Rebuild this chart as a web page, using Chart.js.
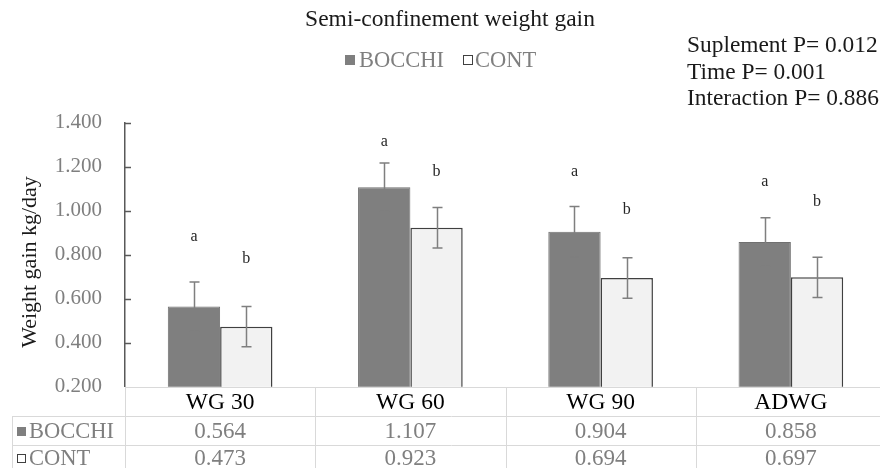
<!DOCTYPE html>
<html>
<head>
<meta charset="utf-8">
<script src="https://cdn.jsdelivr.net/npm/chart.js@4.4.1/dist/chart.umd.min.js"></script>
<style>
  html, body { margin: 0; padding: 0; background: #ffffff; }
  #wrap { width: 880px; height: 468px; overflow: hidden; position: relative; }
  canvas { display: block; }
</style>
</head>
<body>
<div id="wrap"><canvas id="c" width="890" height="468"></canvas></div>
<script>
// Mean daily weight gain (kg/day) per period, with standard error
const categories = ['WG 30', 'WG 60', 'WG 90', 'ADWG'];
const seriesNames = ['BOCCHI', 'CONT'];
const bocchi = [0.564, 1.107, 0.904, 0.858];
const cont = [0.473, 0.923, 0.694, 0.697];
const bocchiErr = [0.112, 0.110, 0.115, 0.110];
const contErr = [0.091, 0.092, 0.092, 0.091];
// significance letters and the value height they sit at
const bocchiLetters = ['a', 'a', 'a', 'a'];
const contLetters = ['b', 'b', 'b', 'b'];
const bocchiLetterAt = [0.880, 1.312, 1.176, 1.130];
const contLetterAt = [0.780, 1.176, 1.003, 1.040];
const yTickValues = [0.2, 0.4, 0.6, 0.8, 1.0, 1.2, 1.4];
const titleText = 'Semi-confinement weight gain';
const yTitle = 'Weight gain kg/day';
const pNotes = ['Suplement P= 0.012', 'Time P= 0.001', 'Interaction P= 0.886'];

const SERIF = "'Liberation Serif', 'Times New Roman', serif";
const DARK_FILL = '#7f7f7f';
const LIGHT_FILL = '#f2f2f2';
const GRID = '#d9d9d9';
const AXIS = '#595959';

function swatch(ctx, x, y, size, fill, stroke) {
  ctx.fillStyle = fill;
  ctx.fillRect(x, y, size, size);
  if (stroke) {
    ctx.strokeStyle = stroke;
    ctx.lineWidth = 1;
    ctx.strokeRect(x + 0.5, y + 0.5, size - 1, size - 1);
  }
}

const decorations = {
  id: 'decorations',
  beforeDatasetsDraw(chart) {
    const { ctx, chartArea: a, scales } = chart;
    const y = scales.y;
    ctx.save();
    // inward tick marks on the value axis
    ctx.strokeStyle = AXIS;
    ctx.lineWidth = 1.5;
    yTickValues.forEach(v => {
      if (v === yTickValues[0]) return;
      const py = Math.round(y.getPixelForValue(v)) + 0.5;
      ctx.beginPath();
      ctx.moveTo(a.left, py);
      ctx.lineTo(a.left + 6, py);
      ctx.stroke();
    });
    ctx.restore();
  },
  afterDatasetsDraw(chart) {
    const { ctx, chartArea: a, scales } = chart;
    const x = scales.x, y = scales.y;
    ctx.save();

    // error bars
    const errs = [bocchiErr, contErr];
    const vals = [bocchi, cont];
    ctx.strokeStyle = '#7f7f7f';
    ctx.lineWidth = 1.5;
    [0, 1].forEach(d => {
      const meta = chart.getDatasetMeta(d);
      meta.data.forEach((bar, i) => {
        const cx = Math.round(bar.x) + 0.5;
        const top = y.getPixelForValue(vals[d][i] + errs[d][i]);
        const bot = y.getPixelForValue(vals[d][i] - errs[d][i]);
        ctx.beginPath();
        ctx.moveTo(cx, top); ctx.lineTo(cx, bot);
        ctx.moveTo(cx - 5, top); ctx.lineTo(cx + 5, top);
        ctx.moveTo(cx - 5, bot); ctx.lineTo(cx + 5, bot);
        ctx.stroke();
      });
    });

    // significance letters
    ctx.fillStyle = '#262626';
    ctx.font = '16px ' + SERIF;
    ctx.textAlign = 'center';
    ctx.textBaseline = 'middle';
    const letters = [bocchiLetters, contLetters];
    const letterAt = [bocchiLetterAt, contLetterAt];
    [0, 1].forEach(d => {
      const meta = chart.getDatasetMeta(d);
      meta.data.forEach((bar, i) => {
        ctx.fillText(letters[d][i], bar.x, y.getPixelForValue(letterAt[d][i]));
      });
    });

    // data table under the plot
    const bottom = a.bottom;
    const edges = [];
    for (let i = 0; i <= categories.length; i++) {
      edges.push(i === 0 ? a.left : (i === categories.length ? a.right : (x.getPixelForValue(i - 1) + x.getPixelForValue(i)) / 2));
    }
    const row1 = 416, row2 = 445, tableLeft = 12;
    ctx.strokeStyle = GRID;
    ctx.lineWidth = 1;
    ctx.beginPath();
    ctx.moveTo(a.left, Math.round(bottom) + 0.5); ctx.lineTo(a.right + 10, Math.round(bottom) + 0.5);
    ctx.moveTo(tableLeft, row1 + 0.5); ctx.lineTo(a.right + 10, row1 + 0.5);
    ctx.moveTo(tableLeft, row2 + 0.5); ctx.lineTo(a.right + 10, row2 + 0.5);
    ctx.moveTo(tableLeft + 0.5, row1); ctx.lineTo(tableLeft + 0.5, 470);
    edges.forEach(ex => {
      const px = Math.round(ex) + 0.5;
      ctx.moveTo(px, Math.round(bottom)); ctx.lineTo(px, 470);
    });
    ctx.stroke();

    ctx.textAlign = 'center';
    ctx.textBaseline = 'middle';
    categories.forEach((c, i) => {
      const cx = x.getPixelForValue(i);
      ctx.fillStyle = '#000000';
      ctx.font = '23.5px ' + SERIF;
      ctx.fillText(c, cx, 403);
      ctx.fillStyle = '#7f7f7f';
      ctx.font = '23px ' + SERIF;
      ctx.fillText(bocchi[i].toFixed(3), cx, 432);
      ctx.fillText(cont[i].toFixed(3), cx, 459);
    });
    // series keys in the table
    swatch(ctx, 17, 427, 9, DARK_FILL);
    swatch(ctx, 17, 454, 9, '#ffffff', '#404040');
    ctx.textAlign = 'left';
    ctx.fillStyle = '#7f7f7f';
    ctx.font = '22.5px ' + SERIF;
    ctx.fillText(seriesNames[0], 29, 432);
    ctx.fillText(seriesNames[1], 29, 459);

    // title
    ctx.textAlign = 'center';
    ctx.fillStyle = '#1a1a1a';
    ctx.font = '23.5px ' + SERIF;
    ctx.fillText(titleText, 450, 20);

    // legend
    swatch(ctx, 345, 55, 10, DARK_FILL);
    swatch(ctx, 463, 55, 10, '#ffffff', '#404040');
    ctx.textAlign = 'left';
    ctx.fillStyle = '#7f7f7f';
    ctx.font = '22.5px ' + SERIF;
    ctx.fillText(seriesNames[0], 359, 61);
    ctx.fillText(seriesNames[1], 475, 61);

    // P-value notes
    ctx.fillStyle = '#1a1a1a';
    ctx.font = '23.4px ' + SERIF;
    pNotes.forEach((t, i) => ctx.fillText(t, 687, 46 + i * 26.5));

    // value axis title
    ctx.save();
    ctx.translate(30, 262);
    ctx.rotate(-Math.PI / 2);
    ctx.textAlign = 'center';
    ctx.fillStyle = '#1a1a1a';
    ctx.font = '22px ' + SERIF;
    ctx.fillText(yTitle, 0, 0);
    ctx.restore();

    ctx.restore();
  }
};

new Chart(document.getElementById('c'), {
  type: 'bar',
  data: {
    labels: categories,
    datasets: [
      { label: seriesNames[0], data: bocchi, backgroundColor: DARK_FILL, borderColor: '#707070', borderWidth: 1 },
      { label: seriesNames[1], data: cont, backgroundColor: LIGHT_FILL, borderColor: '#404040', borderWidth: 1.5 }
    ]
  },
  options: {
    responsive: false,
    animation: false,
    devicePixelRatio: 1,
    layout: { padding: { left: 0, right: 4, top: 122.7, bottom: 81.3 } },
    datasets: { bar: { categoryPercentage: 0.55, barPercentage: 1.0 } },
    plugins: { legend: { display: false }, title: { display: false }, tooltip: { enabled: false } },
    scales: {
      x: { display: false, offset: true, grid: { display: false } },
      y: {
        min: 0.2, max: 1.4,
        afterFit(scale) { scale.width = 125; },
        afterBuildTicks(scale) { scale.ticks = yTickValues.map(v => ({ value: v })); },
        grid: { display: false, drawTicks: false, tickLength: 0 },
        border: { display: true, color: AXIS, width: 1.5 },
        ticks: {
          padding: 23,
          color: '#7f7f7f',
          font: { family: SERIF, size: 21 },
          callback: v => Number(v).toFixed(3)
        }
      }
    }
  },
  plugins: [decorations]
});
</script>
</body>
</html>
